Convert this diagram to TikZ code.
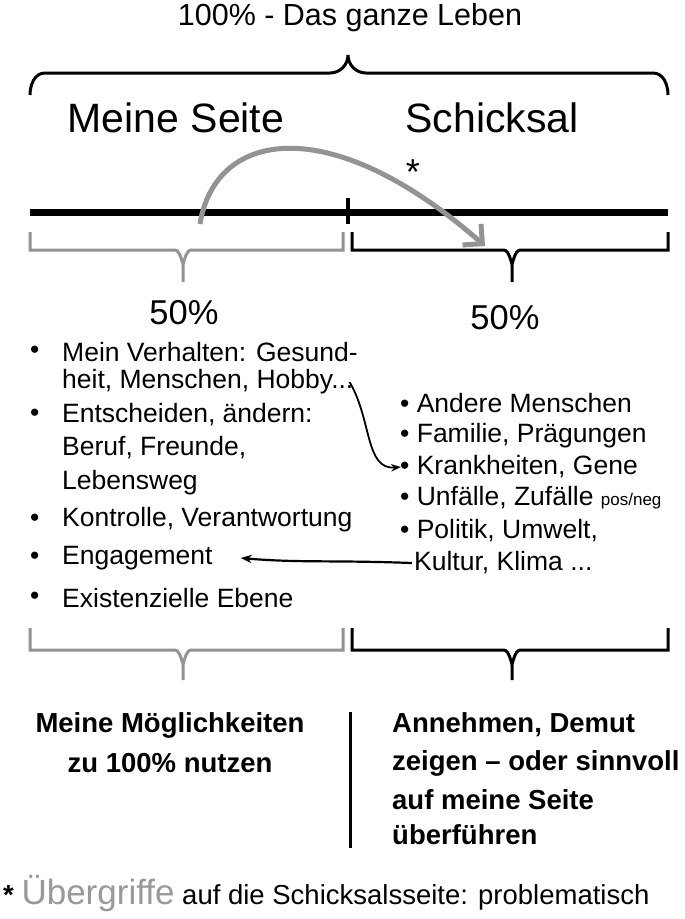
\documentclass[tikz,border=0pt]{standalone}
\usepackage{fontspec}
\setmainfont{Liberation Sans}
\usetikzlibrary{arrows.meta}
\begin{document}
\begin{tikzpicture}[x=1pt,y=-1pt,
  txt/.style={anchor=west,font=\fontsize{26.5}{30}\selectfont,inner sep=0pt},
  big/.style={font=\fontsize{41}{44}\selectfont,inner sep=0pt},
  btxt/.style={font=\bfseries\fontsize{27.5}{30}\selectfont,inner sep=0pt},
  gr/.style={draw=gray!85,line width=3pt},
  bk/.style={draw=black,line width=3pt}]
\useasboundingbox[fill=white] (0,0) rectangle (685,919);
\node[inner sep=0pt,font=\fontsize{30.5}{32}\selectfont] (title) at (350,18) {100\% - Das ganze Leben};
% top brace
\draw[line width=3pt] (30,95) to[out=90,in=180] (45,73) -- (330,73) to[out=0,in=-90] (348,55) to[out=-90,in=180] (366,73) -- (653,73) to[out=0,in=90] (668,95);
\node[big] (ms) at (176,118) {Meine Seite};
\node[big] (sk) at (492,118) {Schicksal};
% line
\draw[line width=7pt] (30,212) -- (668,212);
\draw[line width=4pt] (348,198) -- (348,224);
\coordinate (ga) at (200,224);
\coordinate (gb) at (485,246);
\draw[draw=gray!85,line width=5pt,-{Straight Barb[length=14pt]}] (ga) .. controls (215,130) and (330,110) .. (gb);
\node[inner sep=0pt,font=\fontsize{36}{38}\selectfont] (star) at (413,172) {*};
% braces under line
\draw[gr] (30,232) -- (30,250) -- (175,250) to[out=0,in=-90] (183,262) -- (183,282);
\draw[gr] (183,262) to[out=-90,in=180] (191,250) -- (343,250) -- (343,232);
\draw[bk] (352,232) -- (352,250) -- (504,250) to[out=0,in=-90] (512,262) -- (512,282);
\draw[bk] (512,262) to[out=-90,in=180] (520,250) -- (668,250) -- (668,232);
\node[inner sep=0pt,font=\fontsize{34.5}{36}\selectfont] (p1) at (184,313) {50\%};
\node[inner sep=0pt,font=\fontsize{34.5}{36}\selectfont] (p2) at (505,318) {50\%};
% left bullets
\foreach \y in {352,415,520,558,598} \node[txt] at (30,\y) {•};
\node[txt] (l1) at (62,352) {Mein Verhalten: Gesund-};
\node[txt] (l2) at (62,382) {heit, Menschen, Hobby...};
\node[txt] (l3) at (62,415) {Entscheiden, ändern:};
\node[txt] (l4) at (62,448) {Beruf, Freunde,};
\node[txt] (l5) at (62,483) {Lebensweg};
\node[txt] (l6) at (62,520) {Kontrolle, Verantwortung};
\node[txt] (l7) at (62,558) {Engagement};
\node[txt] (l8) at (62,598) {Existenzielle Ebene};
% right bullets
\node[txt] (r1) at (400,403) {• Andere Menschen};
\node[txt] (r2) at (400,436) {• Familie, Prägungen};
\node[txt] (r3) at (400,467) {• Krankheiten, Gene};
\node[txt] (r4) at (400,498) {• Unfälle, Zufälle {\fontsize{17}{19}\selectfont pos/neg}};
\node[txt] (r5) at (400,531) {• Politik, Umwelt,};
\node[txt] (r6) at (414,563) {Kultur, Klima ...};
\draw[line width=1.8pt,-{Stealth[length=10pt]}] ([xshift=-4pt]l2.east) .. controls (372,420) and (365,470) .. ([xshift=1pt]r3.west);
\draw[line width=2.2pt,-{Stealth[length=11pt]}] ([xshift=-2pt]r6.west) .. controls (330,560) and (300,563) .. ([xshift=28pt]l7.east);
% bottom braces
\draw[gr] (30,628) -- (30,650) -- (175,650) to[out=0,in=-90] (183,662) -- (183,680);
\draw[gr] (183,662) to[out=-90,in=180] (191,650) -- (343,650) -- (343,628);
\draw[bk] (352,628) -- (352,650) -- (504,650) to[out=0,in=-90] (512,662) -- (512,680);
\draw[bk] (512,662) to[out=-90,in=180] (520,650) -- (668,650) -- (668,628);
\draw[line width=3pt] (350,712) -- (350,848);
\node[btxt] (b1) at (170,725) {Meine Möglichkeiten};
\node[btxt] (b2) at (170,763) {zu 100\% nutzen};
\node[btxt,anchor=west] (c1) at (392,725) {Annehmen, Demut};
\node[btxt,anchor=west] (c2) at (392,763) {zeigen – oder sinnvoll};
\node[btxt,anchor=west] (c3) at (392,800) {auf meine Seite};
\node[btxt,anchor=west] (c4) at (392,835) {überführen};
\node[inner sep=0pt,anchor=west,font=\fontsize{27.5}{30}\selectfont] (foot) at (3,893) {{\bfseries *} {\color{gray!80}\fontsize{35}{36}\selectfont Übergriffe} auf die Schicksalsseite: problematisch};
\end{tikzpicture}
\end{document}
